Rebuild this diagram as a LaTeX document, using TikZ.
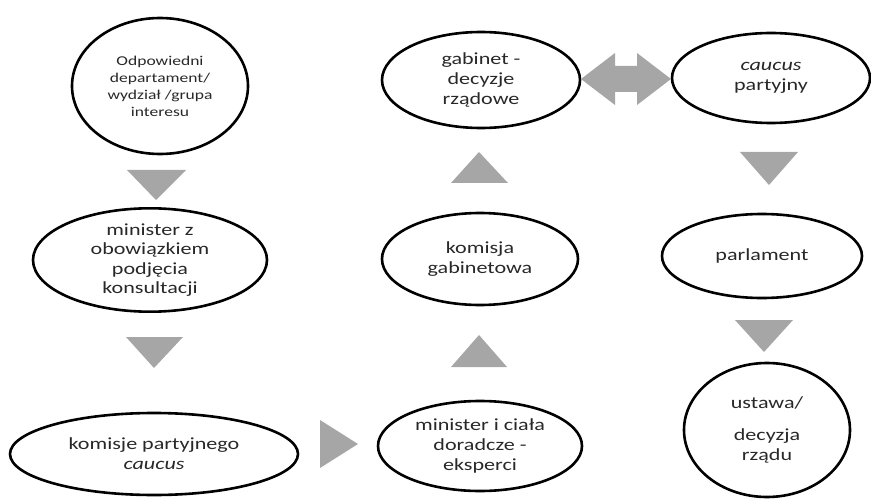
\documentclass[tikz,border=0pt]{standalone}
\usepackage{fontspec}
\setmainfont{Carlito}[FakeStretch=1.3]
\usetikzlibrary{shapes.geometric}
\definecolor{arrowgray}{RGB}{166,166,166}
\definecolor{txtgray}{RGB}{40,40,40}
\tikzset{
  ell/.style={ellipse, draw=black, line width=2.6pt, inner sep=0pt, align=center,
    text=txtgray, font=\fontsize{17}{20}\selectfont},
  blockarrow/.style={fill=arrowgray, draw=none}
}
\begin{document}
\begin{tikzpicture}[x=1pt,y=-1pt]
\useasboundingbox (0,0) rectangle (871,500);
% column 1
\node[ell, minimum width=176pt, minimum height=136pt, font=\fontsize{13.5}{17}\selectfont] (odp) at (160,86)
  {Odpowiedni\\departament/\\wydział /grupa\\interesu};
\node[ell, minimum width=234pt, minimum height=94pt, font=\fontsize{17}{19.5}\selectfont] (min1) at (150,260)
  {minister z\\obowiązkiem\\podjęcia\\konsultacji};
\node[ell, minimum width=288pt, minimum height=82pt] (kom) at (154,454)
  {komisje partyjnego\\\textit{caucus}};
% column 2
\node[ell, minimum width=204pt, minimum height=90pt] (min2) at (480,446)
  {minister i ciała\\doradcze -\\eksperci};
\node[ell, minimum width=196pt, minimum height=92pt] (kgab) at (480,259)
  {komisja\\gabinetowa};
\node[ell, minimum width=198pt, minimum height=96pt] (gab) at (481,80)
  {gabinet -\\decyzje\\rządowe};
% column 3
\node[ell, minimum width=198pt, minimum height=90pt] (cau) at (771,78)
  {\textit{caucus}\\partyjny};
\node[ell, minimum width=200pt, minimum height=84pt] (parl) at (762,256)
  {parlament};
\node[ell, minimum width=166pt, minimum height=134pt] (ust) at (767,430)
  {ustawa/\\[12pt]decyzja\\rządu};
% block arrows
\fill[blockarrow] (127,170) -- (186,170) -- (156,200) -- cycle;
\fill[blockarrow] (126,337) -- (183,337) -- (154,368) -- cycle;
\fill[blockarrow] (320,420) -- (320,468) -- (358,444) -- cycle;
\fill[blockarrow] (451,367) -- (507,367) -- (479,335) -- cycle;
\fill[blockarrow] (451,183) -- (508,183) -- (479,152) -- cycle;
\fill[blockarrow] (740,152) -- (798,152) -- (769,185) -- cycle;
\fill[blockarrow] (735,320) -- (793,320) -- (764,352) -- cycle;
\fill[blockarrow] (581,79) -- (615,53) -- (615,66) -- (637,66) -- (637,53) -- (671,79)
  -- (637,105) -- (637,92) -- (615,92) -- (615,105) -- cycle;
\end{tikzpicture}
\end{document}
